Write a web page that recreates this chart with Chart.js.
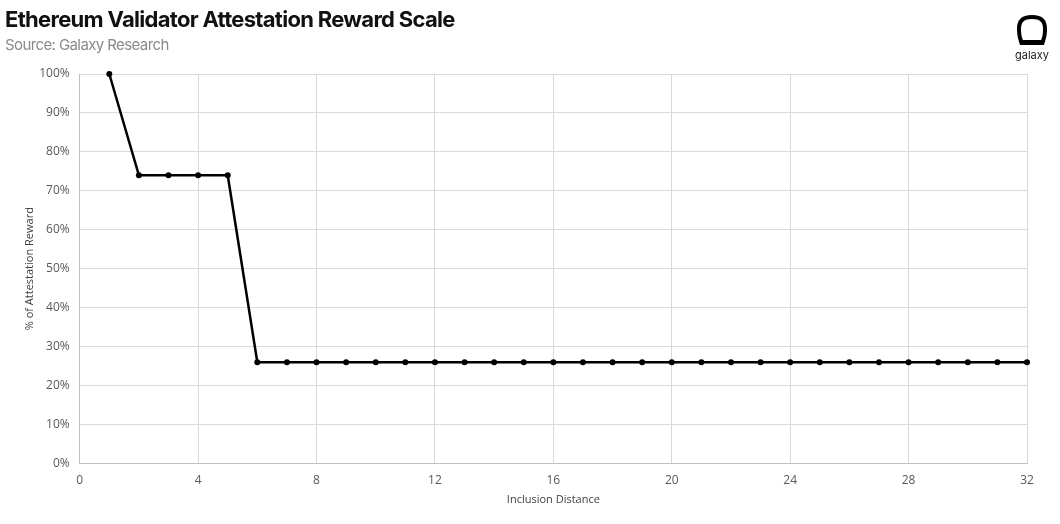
<!DOCTYPE html>
<html>
<head>
<meta charset="utf-8">
<script src="https://cdn.jsdelivr.net/npm/chart.js@4"></script>
<style>
  html, body { margin: 0; padding: 0; background: #fff; }
  #wrap { position: relative; width: 1060px; height: 524px; overflow: hidden; }
  #title { position: absolute; left: 5px; top: 6px; font: 700 22px Inter, sans-serif; letter-spacing: -0.7px; color: #111; }
  #sub { position: absolute; left: 5px; top: 35px; font: 400 15px Inter, sans-serif; letter-spacing: -0.6px; color: #8a8a8a; }
  #logo { position: absolute; left: 1016px; top: 14px; width: 32px; height: 32px; }
  #logoText { position: absolute; left: 1012px; top: 48px; width: 40px; text-align: center; font: 400 11px Inter, sans-serif; color: #222; }
  canvas { position: absolute; left: 0; top: 0; }
</style>
</head>
<body>
<div id="wrap">
  <canvas id="chart" width="1060" height="524"></canvas>
  <div id="title">Ethereum Validator Attestation Reward Scale</div>
  <div id="sub">Source: Galaxy Research</div>
  <svg id="logo" viewBox="0 0 32 32">
    <path d="M16 1 C5 1 1 6 1 15 C1 23 3 27 4 31 L28 31 C29 27 31 23 31 15 C31 6 27 1 16 1 Z" fill="#000"/>
    <path d="M16 5 C8 5 5 8 5 15 C5 21 6 24 7 26 L25 26 C26 24 27 21 27 15 C27 8 24 5 16 5 Z" fill="#fff"/>
  </svg>
  <div id="logoText">galaxy</div>
</div>
<script>
// Inclusion distance (slots) and share of the full attestation reward
const distances = [1, 2, 3, 4, 5, 6, 7, 8, 9, 10, 11, 12, 13, 14, 15, 16,
                   17, 18, 19, 20, 21, 22, 23, 24, 25, 26, 27, 28, 29, 30, 31, 32];
const rewards = [1.00, 0.74, 0.74, 0.74, 0.74, 0.26, 0.26, 0.26, 0.26, 0.26, 0.26, 0.26, 0.26, 0.26, 0.26, 0.26,
                 0.26, 0.26, 0.26, 0.26, 0.26, 0.26, 0.26, 0.26, 0.26, 0.26, 0.26, 0.26, 0.26, 0.26, 0.26, 0.26];
const xTicks = [0, 4, 8, 12, 16, 20, 24, 28, 32];
const yTicks = [0, 0.1, 0.2, 0.3, 0.4, 0.5, 0.6, 0.7, 0.8, 0.9, 1.0];

const tickFont = { family: "'Open Sans', sans-serif", size: 12 };
const titleFont = { family: "'Open Sans', sans-serif", size: 11 };
const gridColor = '#d9d9d9';

new Chart(document.getElementById('chart'), {
    type: 'line',
    data: {
        datasets: [{
            data: distances.map((d, i) => ({ x: d, y: rewards[i] })),
            borderColor: '#000',
            backgroundColor: '#000',
            borderWidth: 2.5,
            pointRadius: 3,
            pointBackgroundColor: '#000',
            pointBorderWidth: 0,
            tension: 0,
            clip: false
        }]
    },
    options: {
        responsive: false,
        animation: false,
        layout: { padding: { left: 10, right: 33, top: 74, bottom: 18 } },
        plugins: {
            legend: { display: false },
            tooltip: { enabled: false }
        },
        scales: {
            x: {
                type: 'linear',
                min: 0,
                max: 32,
                afterBuildTicks: axis => { axis.ticks = xTicks.map(v => ({ value: v })); },
                ticks: { color: '#595959', font: tickFont, padding: 10, maxRotation: 0 },
                grid: { color: gridColor, drawTicks: false },
                border: { color: '#bfbfbf' },
                title: { display: true, text: 'Inclusion Distance', color: '#404040', font: titleFont, padding: { top: -5, bottom: 0 } }
            },
            y: {
                min: 0,
                max: 1,
                afterBuildTicks: axis => { axis.ticks = yTicks.map(v => ({ value: v })); },
                ticks: {
                    color: '#595959', font: tickFont, padding: 10,
                    callback: v => Math.round(v * 100) + '%'
                },
                grid: { color: gridColor, drawTicks: false },
                border: { color: '#bfbfbf' },
                title: { display: true, text: '% of Attestation Reward', color: '#404040', font: titleFont, padding: { top: 13, bottom: -7 } }
            }
        }
    }
});
</script>
</body>
</html>
